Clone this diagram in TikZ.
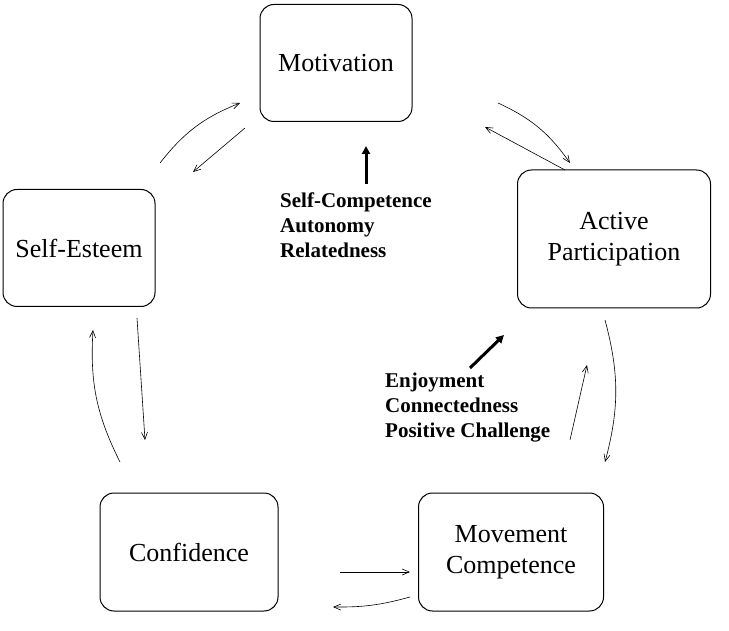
\documentclass[tikz,border=0pt]{standalone}
\usepackage{fontspec}
\setmainfont{Liberation Serif}
\usetikzlibrary{arrows.meta}
\begin{document}
\begin{tikzpicture}[x=1pt,y=-1pt,
  box/.style={draw,line width=1pt,rounded corners=14pt,align=center,font=\fontsize{26}{31}\selectfont,inner sep=0pt},
  thin/.style={-{Straight Barb[length=7pt,width=6pt]},line width=0.6pt},
  thick/.style={-{Triangle[length=8pt,width=8pt]},line width=3pt},
  lab/.style={font=\bfseries\fontsize{21}{25}\selectfont,align=left,anchor=north west,inner sep=0pt}]
\useasboundingbox (0,0) rectangle (729,631);
\node[box,minimum width=152pt,minimum height=117pt] (mot) at (336,63) {Motivation};
\node[box,minimum width=152pt,minimum height=117pt] (se) at (79,248) {Self-Esteem};
\node[box,minimum width=193pt,minimum height=138pt] (ap) at (614,239) {Active\\Participation};
\node[box,minimum width=178pt,minimum height=118pt] (conf) at (189,552) {Confidence};
\node[box,minimum width=185pt,minimum height=118pt] (mc) at (511,552) {Movement\\Competence};
\coordinate (a1) at (160,163); \coordinate (a2) at (240,103);
\coordinate (b1) at (245,128); \coordinate (b2) at (193,172);
\draw[thin] (a1) to[bend left=15] (a2);
\draw[thin] (b1) -- (b2);
\coordinate (c1) at (565,170); \coordinate (c2) at (485,127);
\coordinate (d1) at (498,103); \coordinate (d2) at (570,163);
\draw[thin] (c1) -- (c2);
\draw[thin] (d1) to[bend left=15] (d2);
\coordinate (e1) at (605,320); \coordinate (e2) at (605,462);
\coordinate (f1) at (570,440); \coordinate (f2) at (587,365);
\draw[thin] (e1) to[bend left=15] (e2);
\draw[thin] (f1) -- (f2);
\coordinate (g1) at (340,572); \coordinate (g2) at (410,572);
\coordinate (h1) at (410,597); \coordinate (h2) at (333,607);
\draw[thin] (g1) -- (g2);
\draw[thin] (h1) to[bend left=8] (h2);
\coordinate (i1) at (120,462); \coordinate (i2) at (93,330);
\coordinate (j1) at (137,318); \coordinate (j2) at (145,440);
\draw[thin] (i1) to[bend left=15] (i2);
\draw[thin] (j1) -- (j2);
\coordinate (k1) at (366,184); \coordinate (k2) at (366,146);
\draw[thick] (k1) -- (k2);
\coordinate (l1) at (470,368); \coordinate (l2) at (504,335);
\draw[thick] (l1) -- (l2);
\node[lab] (t1) at (280,193) {Self-Competence\\Autonomy\\Relatedness};
\node[lab] (t2) at (385,373) {Enjoyment\\Connectedness\\Positive Challenge};
\end{tikzpicture}
\end{document}
